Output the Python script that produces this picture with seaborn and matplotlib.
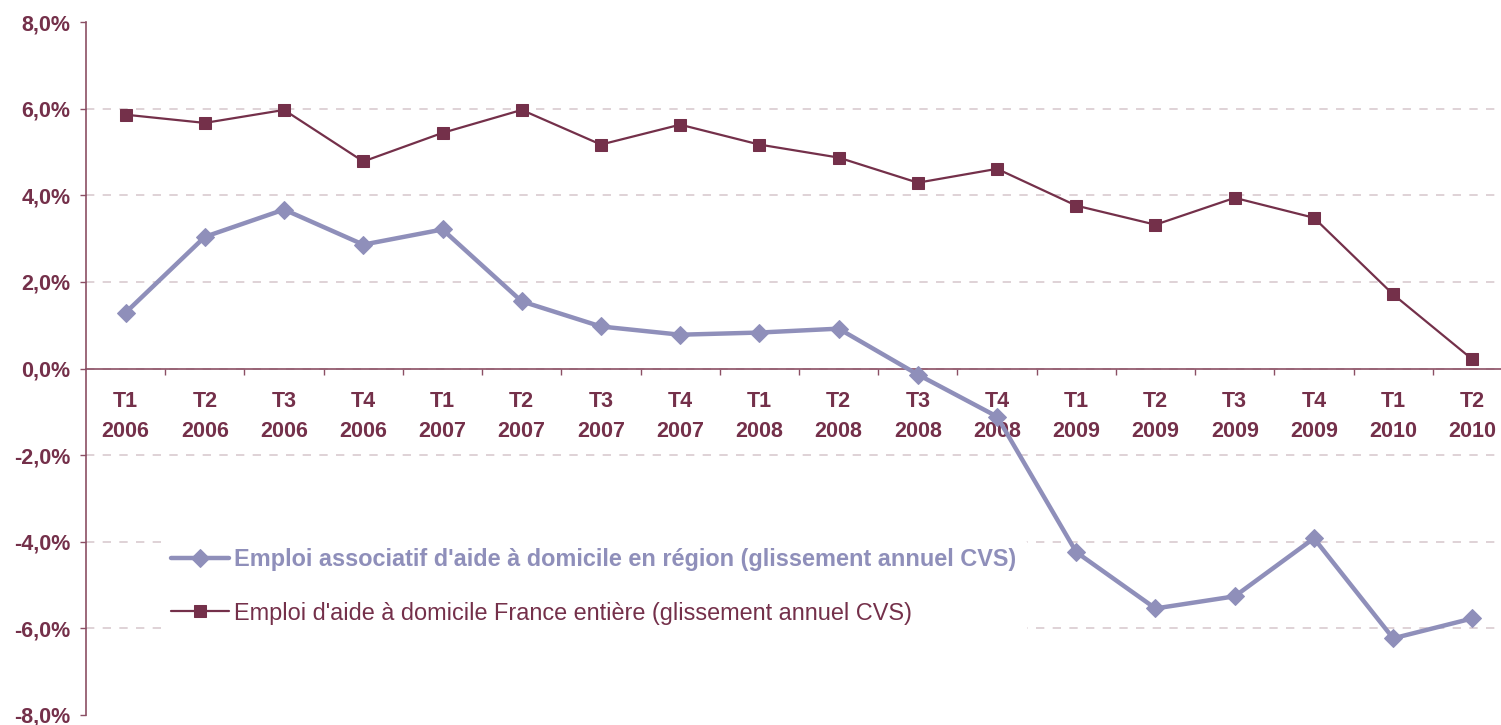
import matplotlib
matplotlib.use("Agg")
import matplotlib.pyplot as plt
from matplotlib.ticker import FuncFormatter, FixedLocator
import seaborn as sns
import numpy as np
import pandas as pd

# Quarters and the two series (annual change, %)
quarters = ["T1\n2006", "T2\n2006", "T3\n2006", "T4\n2006",
            "T1\n2007", "T2\n2007", "T3\n2007", "T4\n2007",
            "T1\n2008", "T2\n2008", "T3\n2008", "T4\n2008",
            "T1\n2009", "T2\n2009", "T3\n2009", "T4\n2009",
            "T1\n2010", "T2\n2010"]
region = [1.29, 3.04, 3.67, 2.86, 3.21, 1.55, 0.97, 0.78, 0.83,
          0.92, -0.14, -1.11, -4.24, -5.54, -5.26, -3.92, -6.23, -5.77]
france = [5.86, 5.67, 5.97, 4.78, 5.44, 5.97, 5.17, 5.63, 5.17,
          4.87, 4.29, 4.61, 3.76, 3.32, 3.94, 3.48, 1.71, 0.21]

label_region = "Emploi associatif d'aide à domicile en région (glissement annuel CVS)"
label_france = "Emploi d'aide à domicile France entière (glissement annuel CVS)"

DARK = "#74304A"
LIGHT = "#8F8FBA"
GRID = "#D9CBD0"

sns.set_style("white")
plt.rcParams["font.family"] = ["Liberation Sans", "DejaVu Sans"]

df = pd.DataFrame({"trimestre": quarters, "region": region, "france": france})

fig = plt.figure(figsize=(15.01, 7.25), dpi=100)
ax = fig.add_axes([86 / 1501, 1 - 715 / 725, (1512 - 86) / 1501, (715 - 22) / 725])

sns.lineplot(data=df, x="trimestre", y="france", ax=ax, color=DARK, lw=1.6,
             marker="s", markersize=8, markeredgecolor=DARK, sort=False,
             label=label_france, zorder=4)
sns.lineplot(data=df, x="trimestre", y="region", ax=ax, color=LIGHT, lw=3.2,
             marker="D", markersize=9.5, markeredgecolor=LIGHT, sort=False,
             label=label_region, zorder=5)

n = len(quarters)
ax.set_xlim(-0.5, n - 0.5)
ax.set_ylim(-8, 8)
ax.set_xlabel("")
ax.set_ylabel("")

# y axis
ax.set_yticks(np.arange(-8, 9, 2))
ax.yaxis.set_major_formatter(FuncFormatter(lambda v, p: f"{v:.1f}%".replace(".", ",")))
ax.yaxis.grid(True, color=GRID, linestyle=(0, (5, 5)), lw=1.2)
gl = ax.yaxis.get_gridlines()
gl[0].set_visible(False)
gl[-1].set_visible(False)
ax.tick_params(axis="y", direction="out", length=4.5, width=1, color="#8B4F64",
               pad=6.5, labelsize=15.5, labelcolor=DARK, left=True)
for lab in ax.get_yticklabels():
    lab.set_fontweight("bold")

# x axis on the zero line, ticks between categories, labels at centres
ax.spines["bottom"].set_position(("data", 0))
ax.xaxis.set_major_locator(FixedLocator(np.arange(0.5, n - 1, 1)))
ax.xaxis.set_minor_locator(FixedLocator(np.arange(n)))
ax.set_xticklabels([], minor=False)
ax.set_xticklabels(quarters, minor=True, fontweight="bold", color=DARK,
                   fontsize=15.5, linespacing=1.6)
ax.tick_params(axis="x", which="major", direction="out", length=4, width=1,
               color="#8B4F64", bottom=True)
ax.tick_params(axis="x", which="minor", length=0, pad=16, bottom=True)

for s in ["top", "right"]:
    ax.spines[s].set_visible(False)
ax.spines["left"].set_color("#8B4F64")
ax.spines["bottom"].set_color("#8B4F64")
ax.spines["left"].set_linewidth(1.2)
ax.spines["bottom"].set_linewidth(1.2)

# legend
handles, labels = ax.get_legend_handles_labels()
leg = ax.legend(handles[::-1], labels[::-1], loc="upper left",
                bbox_to_anchor=(150 / 1501, 1 - 527 / 725),
                bbox_transform=fig.transFigure, frameon=True, fontsize=16.9,
                handlelength=2.45, handletextpad=0.25, labelspacing=1.3,
                borderpad=0.4)
leg.get_frame().set_facecolor("white")
leg.get_frame().set_edgecolor("white")
leg.get_frame().set_alpha(1)
texts = leg.get_texts()
texts[0].set_color(LIGHT)
texts[0].set_fontweight("bold")
texts[1].set_color(DARK)

fig.savefig("out.png", dpi=100)
